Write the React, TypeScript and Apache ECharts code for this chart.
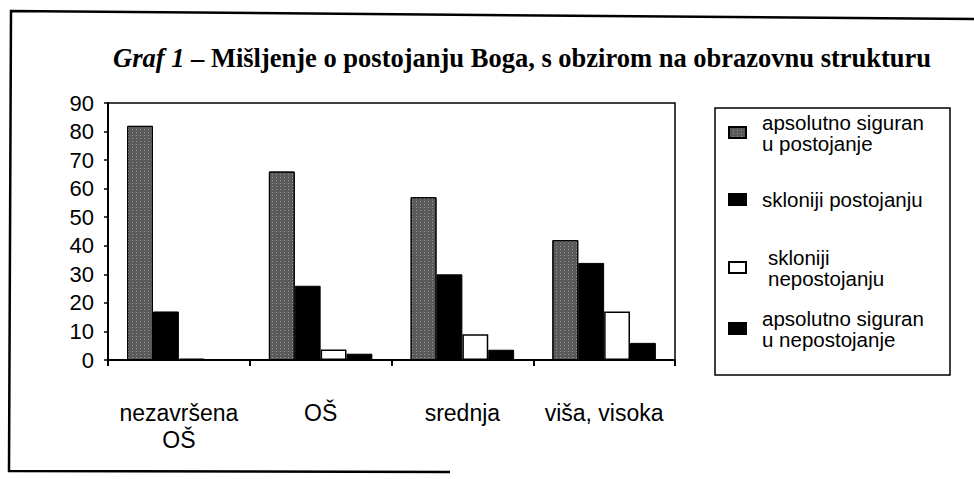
import React, { useEffect, useRef } from 'react';
import * as echarts from 'echarts';

const categories = ['nezavršena\nOŠ', 'OŠ', 'srednja', 'viša, visoka'];
const seriesNames = [
  'apsolutno siguran\nu postojanje',
  'skloniji postojanju',
  'skloniji\nnepostojanju',
  'apsolutno siguran\nu nepostojanje',
];
const sigurnoPostoji = [82, 66, 57, 42];
const skloniPostoji = [17, 26, 30, 34];
const skloniNepostoji = [0.5, 3.7, 9, 17];
const sigurnoNepostoji = [0.2, 2.2, 3.6, 6];
const yMin = 0;
const yMax = 90;
const yStep = 10;

const SANS = '"Liberation Sans", Arial, sans-serif';
const SERIF = '"Liberation Serif", "Times New Roman", serif';

export default function App() {
  const ref = useRef<HTMLDivElement>(null);
  useEffect(() => {
    if (!ref.current) return;
    const chart = echarts.init(ref.current, undefined, { renderer: 'svg' });
    const LH = 21;
    const mkLegend = (name: string, top: number, multi: boolean, padLeft: number) => ({
      data: [name],
      left: 728,
      top,
      padding: 0,
      itemWidth: 17,
      itemHeight: 11,
      icon: 'rect',
      selectedMode: false,
      textStyle: {
        fontFamily: SANS,
        fontSize: 20.5,
        lineHeight: LH,
        color: '#000',
        padding: multi ? [LH, 0, 0, padLeft] : [0, 0, 0, padLeft],
      },
    });
    const styles = [
      {
        color: '#5a5a5a',
        borderColor: '#000',
        borderWidth: 1,
        decal: {
          symbol: 'rect',
          symbolSize: 1,
          color: 'rgba(200,200,200,0.55)',
          dashArrayX: [1, 3],
          dashArrayY: [1, 2],
          rotation: 0,
        },
      },
      { color: '#000', borderColor: '#000', borderWidth: 1 },
      { color: '#fff', borderColor: '#000', borderWidth: 1.5 },
      { color: '#000', borderColor: '#000', borderWidth: 1 },
    ];
    const datas = [sigurnoPostoji, skloniPostoji, skloniNepostoji, sigurnoNepostoji];
    chart.setOption({
      animation: false,
      backgroundColor: '#fff',
      title: {
        text: '{i|Graf 1} – Mišljenje o postojanju Boga, s obzirom na obrazovnu strukturu',
        left: 108,
        top: 39,
        textStyle: {
          fontFamily: SERIF,
          fontSize: 26.5,
          fontWeight: 'bold',
          color: '#000',
          rich: {
            i: { fontFamily: SERIF, fontSize: 26.5, fontWeight: 'bold', fontStyle: 'italic', color: '#000' },
          },
        },
      },
      legend: [
        mkLegend(seriesNames[0], 101, true, 11),
        mkLegend(seriesNames[1], 189, false, 11),
        mkLegend(seriesNames[2], 236, true, 17),
        mkLegend(seriesNames[3], 297, true, 11),
      ],
      grid: {
        left: 108,
        right: 299,
        top: 103,
        bottom: 119,
        show: true,
        borderColor: '#000',
        borderWidth: 1.5,
        backgroundColor: 'transparent',
      },
      xAxis: {
        type: 'category',
        data: categories,
        axisLine: { lineStyle: { color: '#000', width: 2 } },
        axisTick: { show: true, length: 6, lineStyle: { color: '#000', width: 2 } },
        axisLabel: { interval: 0, fontFamily: SANS, fontSize: 23, lineHeight: 27, color: '#000', margin: 39 },
      },
      yAxis: {
        type: 'value',
        min: yMin,
        max: yMax,
        interval: yStep,
        axisLine: { show: true, lineStyle: { color: '#000', width: 2 } },
        axisTick: { show: true, length: 4, lineStyle: { color: '#000', width: 1.5 } },
        splitLine: { show: false },
        axisLabel: { fontFamily: SANS, fontSize: 22, color: '#000', margin: 14 },
      },
      series: datas.map((d, i) => ({
        type: 'bar',
        name: seriesNames[i],
        data: d,
        barGap: '0%',
        barCategoryGap: '27%',
        itemStyle: styles[i],
      })),
      graphic: [
        {
          type: 'polyline',
          shape: { points: [[974, 19], [11, 11], [9, 471], [450, 472]] },
          style: { stroke: '#000', lineWidth: 2.5, fill: null },
          silent: true,
        },
        {
          type: 'rect',
          shape: { x: 715, y: 108, width: 235, height: 267 },
          style: { stroke: '#000', lineWidth: 1.5, fill: null },
          silent: true,
        },
      ],
    });
    return () => chart.dispose();
  }, []);
  return (
    <div
      ref={ref}
      style={{ position: 'absolute', left: 0, top: 0, width: 974, height: 479 }}
    />
  );
}
